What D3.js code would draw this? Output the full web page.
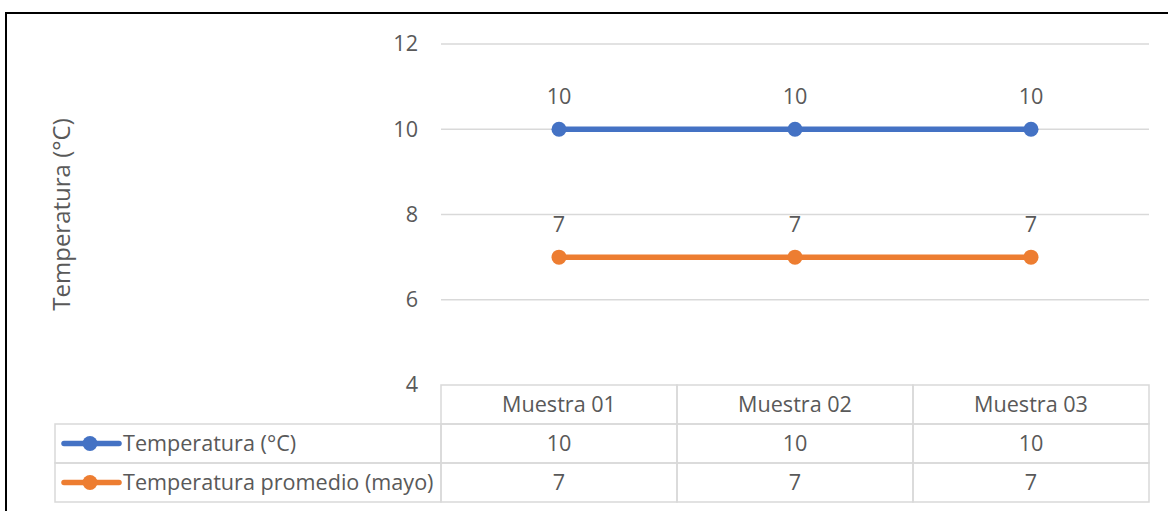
<!DOCTYPE html>
<html>
<head>
<meta charset="utf-8">
<script src="https://cdn.jsdelivr.net/npm/d3@7"></script>
<style>
  html, body { margin: 0; padding: 0; background: #fff; }
  svg { display: block; }
  text { font-family: "Open Sans", "Noto Sans", sans-serif; fill: #595959; }
</style>
</head>
<body>
<svg id="chart" width="1168" height="511"></svg>
<script>
// Chart data
const categories = ["Muestra 01", "Muestra 02", "Muestra 03"];
const seriesNames = ["Temperatura (°C)", "Temperatura promedio (mayo)"];
const temperatura = [10, 10, 10];
const temperaturaPromedio = [7, 7, 7];
const yTicks = [4, 6, 8, 10, 12];
const axisTitle = "Temperatura (°C)";
const seriesColors = ["#4472C4", "#ED7D31"];

const series = [
  { name: seriesNames[0], values: temperatura, color: seriesColors[0] },
  { name: seriesNames[1], values: temperaturaPromedio, color: seriesColors[1] }
];

const svg = d3.select("#chart");
const W = 1168, H = 511;
const FS = "21.6px";

// Outer frame
svg.append("rect")
  .attr("x", 6).attr("y", 13)
  .attr("width", W + 10).attr("height", H + 10)
  .attr("fill", "#fff").attr("stroke", "#000").attr("stroke-width", 2);

const plot = { left: 441, right: 1149, top: 44, bottom: 385 };

const x = d3.scaleBand().domain(categories).range([plot.left, plot.right]);
const y = d3.scaleLinear().domain([4, 12]).range([plot.bottom, plot.top]);

// Horizontal gridlines and tick labels
const yAxis = d3.axisLeft(y).tickValues(yTicks).tickSize(0).tickPadding(0);
const yg = svg.append("g").attr("transform", `translate(${plot.left},0)`).call(yAxis);
yg.select(".domain").remove();
yg.selectAll(".tick line").remove();
yg.selectAll(".tick text")
  .attr("x", -23).attr("dy", "0.32em")
  .style("font-size", FS).style("font-family", null).attr("fill", "#595959");

svg.append("g").selectAll("line")
  .data(yTicks.filter(t => t > 4))
  .join("line")
  .attr("x1", plot.left).attr("x2", plot.right)
  .attr("y1", d => y(d)).attr("y2", d => y(d))
  .attr("stroke", "#d9d9d9").attr("stroke-width", 1.5);

// Axis title
svg.append("text")
  .attr("transform", `translate(70,${(plot.top + plot.bottom) / 2}) rotate(-90)`)
  .attr("text-anchor", "middle")
  .style("font-size", "24px")
  .text(axisTitle);

// Lines, markers and value labels
const line = d3.line()
  .x((d, i) => x(categories[i]) + x.bandwidth() / 2)
  .y(d => y(d));

series.forEach(s => {
  svg.append("path")
    .attr("d", line(s.values))
    .attr("fill", "none")
    .attr("stroke", s.color)
    .attr("stroke-width", 5.5)
    .attr("stroke-linecap", "round");
  svg.append("g").selectAll("circle")
    .data(s.values)
    .join("circle")
    .attr("cx", (d, i) => x(categories[i]) + x.bandwidth() / 2)
    .attr("cy", d => y(d))
    .attr("r", 7.5)
    .attr("fill", s.color);
  svg.append("g").selectAll("text")
    .data(s.values)
    .join("text")
    .attr("x", (d, i) => x(categories[i]) + x.bandwidth() / 2)
    .attr("y", d => y(d) - 25)
    .attr("text-anchor", "middle")
    .style("font-size", FS)
    .text(d => d);
});

// Data table under the plot
const rowTop = [385, 424, 463];
const rowH = 39;
const tableLeft = 55;
const grid = svg.append("g").attr("stroke", "#d9d9d9").attr("stroke-width", 1.5).attr("fill", "none");

// Header row cells
categories.forEach(c => {
  grid.append("rect")
    .attr("x", x(c)).attr("y", rowTop[0])
    .attr("width", x.bandwidth()).attr("height", rowH);
});
// Series rows
series.forEach((s, r) => {
  grid.append("rect")
    .attr("x", tableLeft).attr("y", rowTop[r + 1])
    .attr("width", plot.left - tableLeft).attr("height", rowH);
  categories.forEach(c => {
    grid.append("rect")
      .attr("x", x(c)).attr("y", rowTop[r + 1])
      .attr("width", x.bandwidth()).attr("height", rowH);
  });
});

// Header text
svg.append("g").selectAll("text")
  .data(categories)
  .join("text")
  .attr("x", d => x(d) + x.bandwidth() / 2)
  .attr("y", rowTop[0] + rowH / 2)
  .attr("dy", "0.35em")
  .attr("text-anchor", "middle")
  .style("font-size", FS)
  .text(d => d);

// Row contents: legend key, series name, values
series.forEach((s, r) => {
  const cy = rowTop[r + 1] + rowH / 2;
  svg.append("line")
    .attr("x1", 64).attr("x2", 119)
    .attr("y1", cy).attr("y2", cy)
    .attr("stroke", s.color).attr("stroke-width", 5.5).attr("stroke-linecap", "round");
  svg.append("circle").attr("cx", 90).attr("cy", cy).attr("r", 7.5).attr("fill", s.color);
  svg.append("text")
    .attr("x", 123).attr("y", cy).attr("dy", "0.35em")
    .style("font-size", FS)
    .text(s.name);
  svg.append("g").selectAll("text")
    .data(s.values)
    .join("text")
    .attr("x", (d, i) => x(categories[i]) + x.bandwidth() / 2)
    .attr("y", cy).attr("dy", "0.35em")
    .attr("text-anchor", "middle")
    .style("font-size", FS)
    .text(d => d);
});
</script>
</body>
</html>
